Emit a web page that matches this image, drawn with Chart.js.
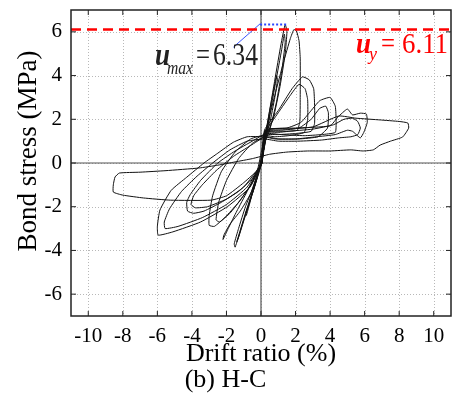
<!DOCTYPE html>
<html>
<head>
<meta charset="utf-8">
<script src="https://cdn.jsdelivr.net/npm/chart.js@4.4.0/dist/chart.umd.min.js"></script>
<style>
  html, body { margin: 0; padding: 0; background: #fff; }
  #wrap { width: 455px; height: 393px; }
</style>
</head>
<body>
<div id="wrap"><canvas id="chart"></canvas></div>
<script>
// tick values on both axes
const driftTicks = [-10, -8, -6, -4, -2, 0, 2, 4, 6, 8, 10]
const stressTicks = [-6, -4, -2, 0, 2, 4, 6]

// marked stresses (MPa)
const uMax = 6.34
const uY = 6.11
const uMaxDrift = [-0.05, 1.52]   // dotted blue segment at u_max
const leaderDrift = [-0.05, -1.6] // leader line to the u_max label
const leaderStress = [6.37, 5.3]

// hysteresis loops: drift ratio (%) and bond stress (MPa)
const loop1Drift = [0.05, 0.2, 0.35, 0.5, 0.45, 0.3, 0.1, -0.1, -0.3, -0.5, -0.45, -0.3, -0.1, 0.05]
const loop1Stress = [0, 0.9, 1.6, 2.2, 1.9, 1.2, 0.4, -0.4, -0.9, -1.4, -1.2, -0.8, -0.3, 0]

const loop2Drift = [0.05, 0.3, 0.6, 0.9, 0.95, 0.8, 0.5, 0.3, 0.1, -0.2, -0.5, -0.85, -0.9, -0.7, -0.4, -0.1, 0.05]
const loop2Stress = [0, 1.5, 2.8, 4.0, 3.8, 3.0, 1.8, 1.3, 0.5, -0.6, -1.4, -2.4, -2.3, -1.9, -1.1, -0.3, 0]

const loop3Drift = [0.05, 0.35, 0.8, 1.15, 1.4, 1.5, 1.4, 1.1, 0.7, 0.35, 0.1, -0.3, -0.7, -1.1, -1.5, -1.55, -1.3, -0.9, -0.5, -0.1, 0.05]
const loop3Stress = [0, 1.7, 3.8, 5.4, 6.34, 6.0, 5.0, 3.5, 2.0, 1.3, 0.4, -0.9, -1.9, -2.9, -3.85, -3.7, -3.0, -2.0, -1.2, -0.3, 0]

const loop4Drift = [0.05, 0.4, 0.85, 1.2, 1.35, 1.4, 1.2, 0.9, 0.5, 0.2, -0.1, -0.5, -0.9, -1.25, -1.4, -1.3, -1.0, -0.6, -0.2, 0.05]
const loop4Stress = [0, 1.7, 3.7, 5.2, 5.9, 5.5, 4.2, 2.8, 1.5, 0.9, -0.2, -1.3, -2.3, -3.2, -3.6, -3.4, -2.6, -1.6, -0.6, 0]

const loop5Drift = [0.05, 0.3, 0.8, 1.3, 1.7, 1.9, 2.05, 2.2, 2.27, 2.27, 2.25, 2.1, 1.6, 1.0, 0.4, 0.15, -0.2, -0.8, -1.4, -1.9, -2.2, -2.15, -1.8, -1.2, -0.6, -0.2, 0.05]
const loop5Stress = [0, 1.5, 3.1, 4.6, 5.7, 6.1, 6.05, 5.6, 4.8, 3.0, 1.9, 1.5, 1.45, 1.4, 1.4, 1.0, -0.3, -1.3, -2.2, -3.0, -3.5, -3.3, -2.8, -2.2, -1.4, -0.5, 0]

const loop6Drift = [0.05, 0.2, 1.0, 1.8, 2.4, 2.8, 3.05, 3.1, 3.1, 2.9, 2.0, 1.0, 0.3, -0.6, -1.5, -2.3, -2.8, -3.0, -3.0, -2.7, -2.1, -1.3, -0.6, 0.05]
const loop6Stress = [0, 1.5, 2.4, 3.4, 3.94, 3.8, 3.4, 2.7, 1.8, 1.45, 1.35, 1.3, 1.3, 1.1, 0.5, -0.4, -1.5, -2.4, -2.85, -2.9, -2.5, -1.8, -1.0, 0]

const loop7Drift = [0.05, 0.25, 1.0, 1.7, 2.2, 2.55, 2.7, 2.7, 2.5, 1.6, 0.8, 0.3, -0.5, -1.3, -2.0, -2.45, -2.6, -2.4, -1.8, -1.1, -0.5, 0.05]
const loop7Stress = [0, 1.4, 2.3, 3.1, 3.6, 3.4, 2.9, 2.0, 1.4, 1.25, 1.2, 1.25, 0.9, 0.2, -0.8, -1.8, -2.6, -2.7, -2.3, -1.6, -0.9, 0]

const loop8Drift = [0.05, 0.25, 1.5, 2.3, 2.8, 3.4, 4.0, 4.3, 4.35, 4.3, 3.5, 2.5, 1.2, 0.3, -0.5, -1.5, -2.5, -3.5, -4.1, -4.3, -4.25, -3.9, -3.3, -2.3, -1.3, -0.5, 0.05]
const loop8Stress = [0, 1.5, 1.6, 1.85, 2.3, 2.85, 3.0, 2.6, 1.9, 1.4, 1.3, 1.25, 1.3, 1.35, 1.0, 0.55, 0.0, -0.8, -1.45, -1.8, -2.2, -2.3, -2.2, -1.8, -1.3, -0.7, 0]

const loop9Drift = [0.05, 0.3, 1.2, 2.2, 2.9, 3.4, 3.75, 3.9, 3.85, 3.3, 2.2, 1.0, 0.25, -0.6, -1.6, -2.6, -3.4, -3.9, -4.05, -3.8, -3.1, -2.0, -1.0, -0.3, 0.05]
const loop9Stress = [0, 1.45, 1.5, 1.6, 2.0, 2.5, 2.6, 2.3, 1.6, 1.2, 1.1, 1.1, 1.2, 0.8, 0.3, -0.35, -1.0, -1.5, -1.9, -2.05, -2.0, -1.65, -1.1, -0.4, 0]

const loop10Drift = [0.05, 0.25, 2.0, 4.0, 4.45, 5.0, 5.3, 5.75, 6.1, 6.15, 5.95, 5.75, 5.3, 5.0, 4.3, 3.2, 2.0, 0.8, 0.2, -0.8, -1.6, -2.5, -3.3, -4.3, -5.2, -5.85, -6.0, -5.95, -5.1, -3.5, -1.95, -0.63, 0.05]
const loop10Stress = [0, 1.5, 1.6, 1.7, 2.1, 2.47, 2.2, 2.28, 2.24, 1.85, 1.4, 1.15, 1.45, 1.5, 1.3, 1.2, 1.1, 1.1, 1.2, 1.2, 0.95, 0.45, 0.0, -0.65, -1.25, -2.15, -2.9, -3.3, -3.15, -2.7, -2.0, -1.1, 0]

const loop11Drift = [0.05, 0.25, 1.5, 3.0, 4.2, 4.8, 5.3, 5.6, 5.75, 5.6, 5.2, 4.5, 3.5, 2.2, 1.0, 0.2, -0.8, -1.8, -2.8, -3.7, -4.6, -5.3, -5.6, -5.55, -4.8, -3.4, -2.0, -0.8, 0.05]
const loop11Stress = [0, 1.4, 1.45, 1.55, 1.75, 2.0, 2.05, 1.9, 1.6, 1.3, 1.2, 1.15, 1.05, 1.0, 1.0, 1.1, 1.0, 0.6, 0.0, -0.6, -1.3, -2.1, -2.7, -3.0, -2.9, -2.5, -1.9, -1.1, 0]

const loop12Drift = [0.05, 0.25, 1.5, 3.0, 4.5, 5.5, 6.9, 8.0, 8.5, 8.55, 8.2, 7.5, 6.9, 6.5, 5.9, 5.2, 4.0, 2.7, 1.5, 0.5, -0.5, -1.5, -2.5, -3.6, -5.5, -7.0, -8.2, -8.45, -8.55, -8.55, -8.0, -6.8, -5.25, -2.9, -2.0, -1.0, 0.0]
const loop12Stress = [0, 1.5, 1.55, 1.65, 2.15, 2.05, 1.97, 1.9, 1.83, 1.6, 1.19, 1.0, 0.82, 0.6, 0.55, 0.6, 0.55, 0.55, 0.5, 0.4, 0.2, 0.05, -0.1, -0.23, -0.35, -0.42, -0.46, -0.64, -1.0, -1.33, -1.47, -1.6, -1.7, -1.7, -1.5, -0.9, -0.2]

const loops = [
  [loop1Drift, loop1Stress], [loop2Drift, loop2Stress], [loop3Drift, loop3Stress],
  [loop4Drift, loop4Stress], [loop5Drift, loop5Stress], [loop6Drift, loop6Stress],
  [loop7Drift, loop7Stress], [loop8Drift, loop8Stress], [loop9Drift, loop9Stress],
  [loop10Drift, loop10Stress], [loop11Drift, loop11Stress], [loop12Drift, loop12Stress]
]

const serif = '"Liberation Serif", "Times New Roman", serif'
Chart.defaults.font.family = serif
Chart.defaults.color = '#000'

const toPoints = (xs, ys) => xs.map((x, i) => ({ x: x, y: ys[i] }))

// dotted grid, zero lines, frame with inward ticks, axis title and stress labels
const framePlugin = {
  id: 'frame',
  beforeDatasetsDraw(chart) {
    const { ctx, chartArea: a, scales: { x, y } } = chart
    ctx.save()
    ctx.strokeStyle = '#b8b8b8'
    ctx.lineWidth = 1
    ctx.setLineDash([1, 2])
    ctx.beginPath()
    driftTicks.forEach(v => {
      const px = Math.round(x.getPixelForValue(v)) + 0.5
      ctx.moveTo(px, a.top); ctx.lineTo(px, a.bottom)
    })
    stressTicks.forEach(v => {
      const py = Math.round(y.getPixelForValue(v)) + 0.5
      ctx.moveTo(a.left, py); ctx.lineTo(a.right, py)
    })
    ctx.stroke()
    ctx.setLineDash([])

    const x0 = x.getPixelForValue(0)
    const y0 = y.getPixelForValue(0)
    ctx.strokeStyle = '#555'
    ctx.lineWidth = 1.2
    ctx.beginPath()
    ctx.moveTo(x0, a.top); ctx.lineTo(x0, a.bottom)
    ctx.moveTo(a.left, y0); ctx.lineTo(a.right, y0)
    ctx.stroke()
    ctx.restore()
  },
  afterDatasetsDraw(chart) {
    const { ctx, chartArea: a, scales: { x, y } } = chart
    ctx.save()
    ctx.strokeStyle = '#222'
    ctx.lineWidth = 1.5
    ctx.strokeRect(a.left, a.top, a.right - a.left, a.bottom - a.top)
    ctx.lineWidth = 1
    ctx.beginPath()
    driftTicks.forEach(v => {
      const px = x.getPixelForValue(v)
      ctx.moveTo(px, a.bottom); ctx.lineTo(px, a.bottom - 5)
      ctx.moveTo(px, a.top); ctx.lineTo(px, a.top + 5)
    })
    stressTicks.forEach(v => {
      const py = y.getPixelForValue(v)
      ctx.moveTo(a.left, py); ctx.lineTo(a.left + 5, py)
      ctx.moveTo(a.right, py); ctx.lineTo(a.right - 5, py)
    })
    ctx.stroke()

    // y axis title
    ctx.save()
    ctx.translate(29, 151)
    ctx.rotate(-Math.PI / 2)
    ctx.fillStyle = '#000'
    ctx.font = '27px ' + serif
    ctx.textAlign = 'center'
    ctx.textBaseline = 'middle'
    ctx.fillText('Bond stress (MPa)', 0, 0)
    ctx.restore()

    ctx.textAlign = 'left'
    ctx.textBaseline = 'alphabetic'
    // u_max label
    ctx.fillStyle = '#222'
    ctx.font = 'bold italic 31px ' + serif
    ctx.fillText('u', 155, 65, 15)
    ctx.font = 'italic 18px ' + serif
    ctx.fillText('max', 167, 74, 26)
    ctx.font = '31px ' + serif
    ctx.fillText('=', 196, 65, 14)
    ctx.fillText(uMax.toFixed(2), 213, 65, 45)
    // u_y label
    ctx.fillStyle = '#ff0000'
    ctx.font = 'bold italic 30px ' + serif
    ctx.fillText('u', 356, 53, 15)
    ctx.font = 'italic 18px ' + serif
    ctx.fillText('y', 369, 60, 10)
    ctx.font = '30px ' + serif
    ctx.fillText('=', 381, 53, 14)
    ctx.fillText(uY.toFixed(2), 402, 53, 46)
    ctx.restore()
  }
}

const datasets = [
  {
    data: [{ x: -11, y: uY }, { x: 11, y: uY }],
    borderColor: '#ff0000', borderWidth: 2.5, borderDash: [10, 6]
  },
  {
    data: uMaxDrift.map(d => ({ x: d, y: uMax })),
    borderColor: '#2a44ff', borderWidth: 2, borderDash: [2, 2]
  },
  {
    data: toPoints(leaderDrift, leaderStress),
    borderColor: '#3a55ff', borderWidth: 1
  }
].concat(loops.map(([d, s]) => ({
  data: toPoints(d, s),
  borderColor: '#111',
  borderWidth: 1,
  tension: 0.15
})))

new Chart(document.getElementById('chart'), {
  type: 'scatter',
  data: { datasets: datasets },
  options: {
    responsive: true,
    maintainAspectRatio: false,
    animation: false,
    showLine: true,
    elements: { point: { radius: 0, hoverRadius: 0 } },
    layout: { padding: { top: 10, right: 4, left: 0, bottom: 0 } },
    plugins: {
      legend: { display: false },
      tooltip: { enabled: false },
      title: {
        display: true,
        text: '(b) H-C',
        position: 'bottom',
        color: '#000',
        font: { size: 26, weight: 'normal', lineHeight: 1 },
        padding: { top: 0, bottom: 0 }
      }
    },
    scales: {
      x: {
        type: 'linear',
        min: -11,
        max: 11,
        afterBuildTicks: scale => { scale.ticks = driftTicks.map(v => ({ value: v })) },
        afterFit: scale => {
          scale.height = 51
          scale.paddingLeft = 0
          scale.paddingRight = 0
        },
        ticks: {
          padding: 10,
          font: { size: 21, lineHeight: 1 },
          color: '#000',
          maxRotation: 0,
          callback: v => String(v)
        },
        grid: { display: false, drawTicks: false },
        border: { display: false },
        title: {
          display: true,
          text: 'Drift ratio (%)',
          font: { size: 26, lineHeight: 1 },
          color: '#000',
          padding: { top: 0, bottom: 0 }
        }
      },
      y: {
        type: 'linear',
        min: -7,
        max: 7,
        afterBuildTicks: scale => { scale.ticks = stressTicks.map(v => ({ value: v })) },
        afterFit: scale => {
          scale.width = 71
          scale.paddingTop = 0
          scale.paddingBottom = 0
        },
        ticks: {
          padding: 9,
          font: { size: 21, lineHeight: 1 },
          color: '#000',
          callback: v => String(v)
        },
        grid: { display: false, drawTicks: false },
        border: { display: false }
      }
    }
  },
  plugins: [framePlugin]
})
</script>
</body>
</html>
